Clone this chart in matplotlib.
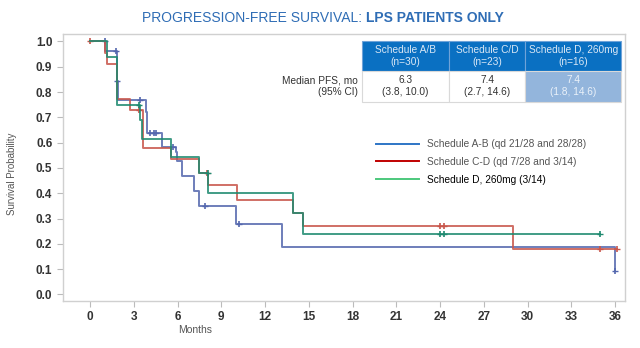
import matplotlib
matplotlib.use("Agg")
import matplotlib.pyplot as plt
from matplotlib.patches import Rectangle
from matplotlib.lines import Line2D

plt.rcParams['font.family'] = ['Liberation Sans', 'DejaVu Sans']

# ---- data ----
blue_t = [0, 1.0, 1.83, 1.9, 1.95, 3.82, 3.9, 4.92, 5.88, 5.95, 6.34, 7.16, 7.48, 10.0, 13.15, 36.0]
blue_s = [1.0, 0.963, 0.844, 0.806, 0.768, 0.722, 0.640, 0.583, 0.564, 0.527, 0.469, 0.408, 0.350, 0.280, 0.186, 0.093]
blue_ct = [1.0, 1.8, 1.85, 3.45, 4.1, 4.4, 4.5, 5.67, 7.9, 10.2, 36.0]
blue_cs = [1.0, 0.963, 0.844, 0.768, 0.640, 0.640, 0.640, 0.583, 0.350, 0.280, 0.093]

red_t = [0, 1.0, 1.2, 1.83, 2.75, 3.6, 5.54, 7.5, 8.12, 10.1, 13.9, 14.6, 29.0, 36.1]
red_s = [1.0, 0.956, 0.909, 0.772, 0.728, 0.580, 0.534, 0.480, 0.432, 0.375, 0.323, 0.270, 0.180, 0.180]
red_ct = [0.0, 3.35, 8.0, 24.0, 24.3, 35.0, 36.1]
red_cs = [1.0, 0.728, 0.480, 0.270, 0.270, 0.180, 0.180]

green_t = [0, 1.2, 1.85, 3.43, 3.55, 5.54, 7.47, 8.12, 13.9, 14.6, 35.0]
green_s = [1.0, 0.939, 0.750, 0.688, 0.613, 0.545, 0.480, 0.400, 0.320, 0.240, 0.240]
green_ct = [3.35, 8.1, 24.0, 24.3, 35.0]
green_cs = [0.750, 0.480, 0.240, 0.240, 0.240]

legend_labels = ["Schedule A-B (qd 21/28 and 28/28)",
                 "Schedule C-D (qd 7/28 and 3/14)",
                 "Schedule D, 260mg (3/14)"]
table_headers = ["Schedule A/B\n(n=30)", "Schedule C/D\n(n=23)", "Schedule D, 260mg\n(n=16)"]
table_values = ["6.3\n(3.8, 10.0)", "7.4\n(2.7, 14.6)", "7.4\n(1.8, 14.6)"]
row_label = "Median PFS, mo\n(95% CI)"
title_main = "PROGRESSION-FREE SURVIVAL: "
title_bold = "LPS PATIENTS ONLY"
x_ticks = list(range(0, 37, 3))
y_ticks = [i / 10 for i in range(11)]

# ---- styles ----
c_blue, c_red, c_green = "#5467AE", "#C8564B", "#1F8A70"
leg_colors = ["#2E75C6", "#C00000", "#4CC87C"]

fig = plt.figure(figsize=(6.4, 3.48), dpi=100)
ax = fig.add_axes([0.098, 0.135, 0.879, 0.767])

for t, s, ct, cs, c in [(blue_t, blue_s, blue_ct, blue_cs, c_blue),
                        (red_t, red_s, red_ct, red_cs, c_red),
                        (green_t, green_s, green_ct, green_cs, c_green)]:
    ax.step(t, s, where='post', color=c, lw=1.4, alpha=0.85)
    ax.plot(ct, cs, linestyle='none', marker='|', markersize=5, mew=1.2, color=c)
    ax.plot(ct, cs, linestyle='none', marker='_', markersize=4, mew=1.0, color=c)

ax.set_xlim(-1.87, 36.7)
ax.set_ylim(-0.026, 1.029)
ax.set_xticks(x_ticks)
ax.set_yticks(y_ticks)
ax.set_yticklabels([f"{v:.1f}" for v in y_ticks])
ax.tick_params(axis='both', colors='#BBBBBB', labelcolor='#333333', labelsize=8.5, length=4, width=0.8)
for lab in ax.get_xticklabels() + ax.get_yticklabels():
    lab.set_fontweight('bold')
for sp in ax.spines.values():
    sp.set_color('#D0D0D0')
    sp.set_linewidth(1.0)

ax.set_xlabel("Months", fontsize=7.5, color='#555555')
ax.xaxis.set_label_coords(0.235, -0.09)
fig.text(0.019, 0.5, "Survival Probability", rotation=90, fontsize=7, color='#555555',
         ha='center', va='center')

# title (two parts, centred around x≈0.505)
t1 = fig.text(0.0, 0.948, title_main, ha='left', va='center', fontsize=10, color='#2F6DB5')
t2 = fig.text(0.0, 0.948, title_bold, ha='left', va='center', fontsize=10,
              color='#2F6DB5', fontweight='bold')
fig.canvas.draw()
r = fig.canvas.get_renderer()
w1 = t1.get_window_extent(r).width / fig.bbox.width
w2 = t2.get_window_extent(r).width / fig.bbox.width
x_start = 0.505 - (w1 + w2) / 2
t1.set_x(x_start)
t2.set_x(x_start + w1)

# legend
handles = [Line2D([0], [0], color=c, lw=1.4) for c in leg_colors]
leg = ax.legend(handles, legend_labels, loc='upper left', bbox_to_anchor=(0.54, 0.64),
                frameon=False, fontsize=7.3, handlelength=4.3, handletextpad=0.8,
                labelspacing=0.75)
for i, txt in enumerate(leg.get_texts()):
    txt.set_color('#555555' if i < 2 else '#000000')

# table (axes-fraction coordinates)
x_edges = [0.532, 0.687, 0.822, 0.993]
y_top, y_mid, y_bot = 0.975, 0.862, 0.746
for i in range(3):
    x0, x1 = x_edges[i], x_edges[i + 1]
    ax.add_patch(Rectangle((x0, y_mid), x1 - x0, y_top - y_mid, transform=ax.transAxes,
                           facecolor='#0A70C2', edgecolor='#6FA3D8', lw=0.8, zorder=5))
    ax.text((x0 + x1) / 2, (y_top + y_mid) / 2, table_headers[i], transform=ax.transAxes,
            ha='center', va='center', fontsize=7.3, color='#D9E7F5', zorder=6,
            linespacing=1.25)
    fc = '#93B5DC' if i == 2 else 'white'
    tc = '#EAF1F9' if i == 2 else '#333333'
    ax.add_patch(Rectangle((x0, y_bot), x1 - x0, y_mid - y_bot, transform=ax.transAxes,
                           facecolor=fc, edgecolor='#D9D9D9', lw=0.8, zorder=5))
    ax.text((x0 + x1) / 2, (y_mid + y_bot) / 2, table_values[i], transform=ax.transAxes,
            ha='center', va='center', fontsize=7.3, color=tc, zorder=6, linespacing=1.25)
ax.text(0.525, (y_mid + y_bot) / 2, row_label, transform=ax.transAxes, ha='right',
        va='center', fontsize=7.3, color='#333333', zorder=6, linespacing=1.25,
        multialignment='right')

fig.savefig("out.png", dpi=100)
